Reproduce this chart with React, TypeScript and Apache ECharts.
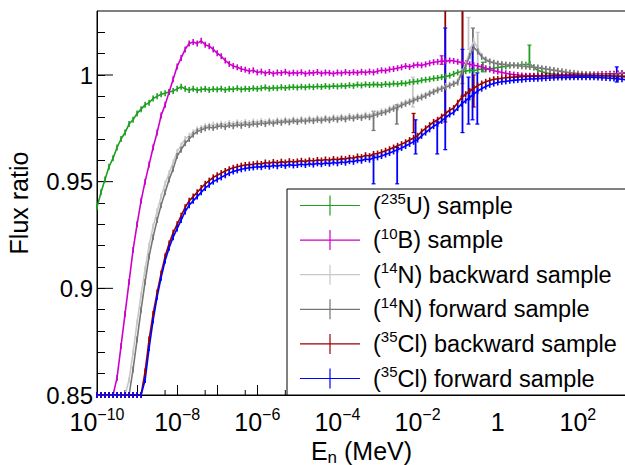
import React, { useEffect, useRef } from 'react';
import * as echarts from 'echarts';

// ---- axis ranges (log10 of E in MeV on x) ----
const X_MIN = -10;
const X_MAX = 3.2;
const Y_MIN = 0.85;
const Y_MAX = 1.03;
// histogram bins: log10(E) from -10.0 in steps of 0.1
const LOG_E_START = -10;
const LOG_E_STEP = 0.1;

// secondary (5x) tick energies, MeV
const fiveTickEnergies = [5e-10, 5e-9, 5e-8, 5e-7, 5e-6, 5e-5, 5e-4, 5e-3, 5e-2, 5e-1, 5, 50, 500];
// labelled (long) y ticks
const yMajorTicks = [0.85, 0.9, 0.95, 1.0];

const seriesNames = [
  '(235U) sample',
  '(10B) sample',
  '(14N) backward sample',
  '(14N) forward sample',
  '(35Cl) backward sample',
  '(35Cl) forward sample',
];
const legendSup = ['235', '10', '14', '14', '35', '35'];
const legendRest = ['U) sample', 'B) sample', 'N) backward sample', 'N) forward sample', 'Cl) backward sample', 'Cl) forward sample'];
const colors = ['#1f9e1f', '#cc00cc', '#c8c8c8', '#767676', '#990000', '#0000ff'];

// ---- flux ratios, one value per bin ----
const u235 = [
  0.938, 0.945, 0.951, 0.957, 0.961, 0.966, 0.970, 0.973, 0.977, 0.979,
  0.982, 0.984, 0.986, 0.987, 0.989, 0.990, 0.991, 0.9915, 0.992, 0.9925,
  0.9935, 0.9945, 0.9935, 0.993, 0.9935, 0.9928, 0.9932, 0.9935, 0.993, 0.9934,
  0.9932, 0.9936, 0.993, 0.9935, 0.9933, 0.9938, 0.9932, 0.9936, 0.9934, 0.9938,
  0.9935, 0.9938, 0.9942, 0.9936, 0.994, 0.9938, 0.9943, 0.9939, 0.9942, 0.9944,
  0.9941, 0.9945, 0.9942, 0.9946, 0.9943, 0.9947, 0.9944, 0.9948, 0.9945, 0.9949,
  0.9946, 0.995, 0.9948, 0.9952, 0.9949, 0.9955, 0.9951, 0.9956, 0.9953, 0.9956,
  0.9955, 0.9953, 0.9958, 0.9955, 0.996, 0.9957, 0.9962, 0.996, 0.9966, 0.9968,
  0.997, 0.9975, 0.9978, 0.998, 0.9984, 0.9986, 0.999, 0.9993, 0.9997, 1.0005,
  1.0012, 1.0016, 1.0018, 1.0022, 1.002, 1.0025, 1.0028, 1.0026, 1.003, 1.0032,
  1.0035, 1.0038, 1.004, 1.0044, 1.0047, 1.0045, 1.005, 1.0048, 1.0052, 1.0035,
  1.0022, 1.0015, 1.001, 1.0006, 1.0004, 1.0002, 1.0, 0.9998, 0.9997, 0.9996,
  0.9996, 0.9997, 0.9996, 0.9998, 0.9997, 0.9999, 1.0, 1.0001, 1.0003, 1.0005,
  1.0007, 1.0009, 1.001,
];
const b10 = [
  0.790, 0.804, 0.817, 0.830, 0.844, 0.858, 0.873, 0.888, 0.903, 0.918,
  0.930, 0.941, 0.950, 0.958, 0.966, 0.973, 0.981, 0.986, 0.992, 0.998,
  1.004, 1.008, 1.012, 1.0148, 1.0155, 1.0148, 1.016, 1.0142, 1.0135, 1.012,
  1.0102, 1.0088, 1.0068, 1.0052, 1.0042, 1.0036, 1.0028, 1.0025, 1.0018, 1.0022,
  1.0012, 1.0016, 1.0008, 1.0014, 1.0006, 1.0012, 1.0009, 1.0015, 1.0007, 1.0011,
  1.0008, 1.0013, 1.0006, 1.0011, 1.0009, 1.0014, 1.0007, 1.0012, 1.001, 1.0006,
  1.0012, 1.0008, 1.0014, 1.0009, 1.0013, 1.001, 1.0015, 1.0011, 1.0016, 1.0012,
  1.0018, 1.0022, 1.002, 1.0026, 1.0028, 1.0032, 1.0036, 1.0042, 1.0038, 1.0045,
  1.0048, 1.0045, 1.005, 1.0055, 1.006, 1.0062, 1.0066, 1.0064, 1.0068, 1.0066,
  1.0062, 1.0058, 1.0055, 1.005, 1.0046, 1.0042, 1.0038, 1.0032, 1.0026, 1.002,
  1.0016, 1.0012, 1.0008, 1.0005, 1.0002, 1.0, 0.9998, 0.9997, 0.9996, 0.9996,
  0.9996, 0.9997, 0.9997, 0.9998, 0.9998, 0.9999, 1.0, 1.0, 1.0001, 1.0001,
  1.0002, 1.0002, 1.0003, 1.0003, 1.0004, 1.0004, 1.0005, 1.0005, 1.0006, 1.0006,
  1.0007, 1.0008, 1.0008,
];
const n14Backward = [
  0.738, 0.753, 0.768, 0.783, 0.798, 0.813, 0.828, 0.843, 0.857, 0.870,
  0.884, 0.897, 0.909, 0.920, 0.929, 0.936, 0.943, 0.949, 0.954, 0.959,
  0.964, 0.967, 0.970, 0.9715, 0.9732, 0.9745, 0.9752, 0.976, 0.9762, 0.9768,
  0.9765, 0.9772, 0.9768, 0.9775, 0.977, 0.9778, 0.9773, 0.978, 0.9775, 0.9782,
  0.9778, 0.9784, 0.9779, 0.9786, 0.978, 0.9788, 0.9783, 0.979, 0.9785, 0.9792,
  0.9787, 0.9793, 0.9789, 0.9796, 0.979, 0.9798, 0.9793, 0.98, 0.9795, 0.9802,
  0.9798, 0.9805, 0.98, 0.9808, 0.9803, 0.981, 0.9806, 0.9814, 0.981, 0.9818,
  0.9822, 0.983, 0.9832, 0.9842, 0.9848, 0.9855, 0.9864, 0.9872, 0.9878, 0.9888,
  0.9895, 0.9902, 0.9908, 0.9918, 0.9925, 0.9934, 0.994, 0.9948, 0.9955, 0.9962,
  0.997, 1.0015, 1.005, 1.011, 1.016, 1.0125, 1.009, 1.0075, 1.0066, 1.006,
  1.0055, 1.0053, 1.005, 1.0048, 1.0047, 1.0045, 1.0043, 1.0041, 1.004, 1.0038,
  1.0036, 1.0033, 1.003, 1.0027, 1.0024, 1.0021, 1.0018, 1.0015, 1.0012, 1.001,
  1.0008, 1.0006, 1.0004, 1.0003, 1.0002, 1.0001, 1.0, 1.0, 0.9999, 0.9999,
  0.9999, 0.9998, 0.9998,
];
const n14Forward = [
  0.730, 0.745, 0.760, 0.775, 0.790, 0.805, 0.820, 0.835, 0.849, 0.862,
  0.876, 0.890, 0.903, 0.915, 0.924, 0.932, 0.939, 0.945, 0.951, 0.956,
  0.962, 0.965, 0.968, 0.970, 0.972, 0.9735, 0.9742, 0.975, 0.9755, 0.9752,
  0.9758, 0.9762, 0.9756, 0.9765, 0.976, 0.9768, 0.9762, 0.977, 0.9765, 0.9772,
  0.9768, 0.9775, 0.977, 0.9778, 0.9772, 0.978, 0.9776, 0.9783, 0.9778, 0.9785,
  0.978, 0.9787, 0.9782, 0.9788, 0.9784, 0.979, 0.9786, 0.9793, 0.9788, 0.9795,
  0.979, 0.9797, 0.9792, 0.98, 0.9796, 0.9803, 0.9799, 0.9806, 0.9802, 0.981,
  0.9815, 0.9822, 0.9825, 0.9835, 0.9842, 0.9848, 0.9858, 0.9865, 0.9872, 0.988,
  0.9888, 0.9895, 0.9902, 0.9912, 0.992, 0.9928, 0.9935, 0.9942, 0.995, 0.9958,
  0.9965, 1.001, 1.004, 1.009, 1.013, 1.011, 1.0085, 1.007, 1.0062, 1.0056,
  1.0052, 1.005, 1.0048, 1.0046, 1.0045, 1.0043, 1.0041, 1.004, 1.0038, 1.0036,
  1.0034, 1.0031, 1.0028, 1.0025, 1.0022, 1.0019, 1.0016, 1.0013, 1.001, 1.0008,
  1.0006, 1.0004, 1.0002, 1.0001, 1.0, 0.9999, 0.9998, 0.9998, 0.9997, 0.9997,
  0.9997, 0.9996, 0.9996,
];
const cl35Backward = [
  0.680, 0.695, 0.710, 0.725, 0.740, 0.755, 0.770, 0.785, 0.800, 0.816,
  0.831, 0.846, 0.861, 0.876, 0.888, 0.898, 0.907, 0.915, 0.921, 0.926,
  0.930, 0.934, 0.938, 0.941, 0.943, 0.945, 0.947, 0.949, 0.9505, 0.952,
  0.953, 0.954, 0.955, 0.9558, 0.9565, 0.957, 0.9575, 0.9578, 0.958, 0.9582,
  0.9585, 0.9583, 0.959, 0.9586, 0.9592, 0.9588, 0.9594, 0.959, 0.9596, 0.9592,
  0.9595, 0.9598, 0.9594, 0.96, 0.9597, 0.9602, 0.9599, 0.9604, 0.96, 0.9606,
  0.9603, 0.9608, 0.9606, 0.9612, 0.961, 0.9618, 0.9615, 0.9624, 0.962, 0.963,
  0.9632, 0.9638, 0.9645, 0.9652, 0.966, 0.9668, 0.9676, 0.9685, 0.9695, 0.9705,
  0.9715, 0.9735, 0.975, 0.9765, 0.978, 0.979, 0.9805, 0.982, 0.9835, 0.9845,
  0.987, 0.9895, 0.991, 0.9925, 0.9938, 0.995, 0.996, 0.9968, 0.9974, 0.998,
  0.9982, 0.9985, 0.9987, 0.9989, 0.999, 0.9991, 0.9992, 0.9993, 0.9993, 0.9994,
  0.9994, 0.9995, 0.9995, 0.9995, 0.9996, 0.9996, 0.9996, 0.9997, 0.9997, 0.9997,
  0.9997, 0.9997, 0.9997, 0.9997, 0.9996, 0.9996, 0.9996, 0.9995, 0.9995, 0.9994,
  0.9993, 0.9992, 0.9991,
];
const cl35Forward = [
  0.675, 0.690, 0.705, 0.720, 0.735, 0.750, 0.765, 0.780, 0.795, 0.811,
  0.826, 0.841, 0.857, 0.872, 0.885, 0.896, 0.905, 0.913, 0.919, 0.924,
  0.928, 0.932, 0.936, 0.939, 0.941, 0.943, 0.945, 0.947, 0.9485, 0.950,
  0.951, 0.952, 0.953, 0.954, 0.9548, 0.9553, 0.9558, 0.9562, 0.9565, 0.9567,
  0.957, 0.9568, 0.9574, 0.957, 0.9576, 0.9572, 0.9578, 0.9574, 0.958, 0.9576,
  0.9578, 0.9582, 0.9578, 0.9584, 0.958, 0.9586, 0.9582, 0.9588, 0.9584, 0.959,
  0.9586, 0.9592, 0.9589, 0.9596, 0.9593, 0.96, 0.9598, 0.9606, 0.9603, 0.9612,
  0.9614, 0.962, 0.9627, 0.9634, 0.9642, 0.965, 0.9658, 0.9667, 0.9677, 0.9687,
  0.9697, 0.9715, 0.973, 0.9745, 0.976, 0.977, 0.9785, 0.98, 0.9815, 0.9825,
  0.9845, 0.9865, 0.988, 0.9895, 0.991, 0.9925, 0.9936, 0.9946, 0.9954, 0.996,
  0.9965, 0.9968, 0.997, 0.9973, 0.9975, 0.9977, 0.9978, 0.998, 0.9981, 0.9982,
  0.9983, 0.9984, 0.9985, 0.9986, 0.9987, 0.9988, 0.9988, 0.9989, 0.9989, 0.999,
  0.999, 0.999, 0.999, 0.999, 0.9989, 0.9988, 0.9987, 0.9986, 0.9985, 0.9984,
  0.9982, 0.998, 0.9978,
];

// ---- bins with large error bars: [log10 E, low, high] ----
const u235Spikes = [[0.79, 1.004, 1.014], [-0.37, 1.0015, 1.006]];
const b10Spikes = [[-1.4, 1.005, 1.009]];
const n14BackwardSpikes = [[-2.12, 0.985, 0.999], [-0.73, 1.012, 1.027], [-0.5, 1.003, 1.02]];
const n14ForwardSpikes = [[-3.1, 0.974, 0.983], [-2.52, 0.977, 0.986], [-0.88, 0.996, 1.04], [-0.62, 1.003, 1.022]];
const cl35BackwardSpikes = [[-2.1, 0.973, 0.982], [-1.31, 0.978, 1.04], [-0.88, 0.99, 1.04], [-0.6, 0.985, 1.0]];
const cl35ForwardSpikes = [
  [-3.1, 0.949, 0.962], [-2.51, 0.949, 0.966], [-2.05, 0.963, 0.979], [-1.51, 0.963, 0.978],
  [-1.31, 0.965, 1.022], [-0.88, 0.973, 1.012], [-0.73, 0.977, 0.999], [-0.63, 0.979, 1.013],
  [-0.51, 0.977, 1.001], [2.97, 0.9967, 1.0038],
];

const allValues = [u235, b10, n14Backward, n14Forward, cl35Backward, cl35Forward];
const allSpikes = [u235Spikes, b10Spikes, n14BackwardSpikes, n14ForwardSpikes, cl35BackwardSpikes, cl35ForwardSpikes];

const FONT = "'Liberation Sans', Arial, Helvetica, sans-serif";

export default function App() {
  const ref = useRef<HTMLDivElement>(null);

  useEffect(() => {
    if (!ref.current) return;
    const chart = echarts.init(ref.current, undefined, { renderer: 'svg' });

    const series: any[] = [];
    allValues.forEach((vals, k) => {
      const color = colors[k];
      series.push({
        name: seriesNames[k],
        type: 'line',
        data: vals.map((v, i) => [+(LOG_E_START + i * LOG_E_STEP).toFixed(2), Math.max(v, Y_MIN)]),
        symbol: 'rect',
        symbolSize: [1.6, 6],
        showSymbol: true,
        lineStyle: { color, width: 1.6 },
        itemStyle: { color },
        clip: true,
        silent: true,
      });
      series.push({
        name: 'err' + k,
        type: 'custom',
        silent: true,
        data: allSpikes[k],
        encode: { x: 0, y: [1, 2] },
        renderItem: (params: any, api: any) => {
          const x = api.value(0);
          const lo = Math.max(api.value(1), Y_MIN);
          const hi = Math.min(api.value(2), Y_MAX);
          const a = api.coord([x, lo]);
          const b = api.coord([x, hi]);
          const children: any[] = [
            { type: 'line', shape: { x1: a[0], y1: a[1], x2: b[0], y2: b[1] }, style: { stroke: color, lineWidth: 1.8 } },
            { type: 'line', shape: { x1: a[0] - 2, y1: a[1], x2: a[0] + 2, y2: a[1] }, style: { stroke: color, lineWidth: 1.2 } },
          ];
          if (api.value(2) < Y_MAX) {
            children.push({ type: 'line', shape: { x1: b[0] - 2, y1: b[1], x2: b[0] + 2, y2: b[1] }, style: { stroke: color, lineWidth: 1.2 } });
          }
          return { type: 'group', children };
        },
      });
    });

    // secondary x ticks at 5 x 10^n
    series.push({
      name: 'ticks5',
      type: 'custom',
      silent: true,
      data: fiveTickEnergies.map((e) => [Math.log10(e), Y_MIN]),
      encode: { x: 0, y: 1 },
      renderItem: (params: any, api: any) => {
        const p = api.coord([api.value(0), Y_MIN]);
        return { type: 'line', shape: { x1: p[0], y1: p[1], x2: p[0], y2: p[1] - 5 }, style: { stroke: '#000', lineWidth: 1 } };
      },
      z: 1,
    });
    // long y ticks at labelled values
    series.push({
      name: 'ticksY',
      type: 'custom',
      silent: true,
      data: yMajorTicks.map((v) => [X_MIN, v]),
      encode: { x: 0, y: 1 },
      renderItem: (params: any, api: any) => {
        const p = api.coord([X_MIN, api.value(1)]);
        return { type: 'line', shape: { x1: p[0], y1: p[1], x2: p[0] + 16, y2: p[1] }, style: { stroke: '#000', lineWidth: 1 } };
      },
      z: 1,
    });

    chart.setOption({
      animation: false,
      backgroundColor: '#fff',
      grid: {
        left: 97, right: -1, top: 11, bottom: 70,
        show: true, borderColor: '#000', borderWidth: 1,
        containLabel: false, outerBoundsMode: 'none',
      },
      xAxis: {
        type: 'value',
        min: X_MIN,
        max: X_MAX,
        interval: 1,
        axisLine: { show: true, onZero: false, lineStyle: { color: '#000', width: 1 } },
        axisTick: { show: true, inside: true, length: 10, lineStyle: { color: '#000' } },
        splitLine: { show: false },
        axisLabel: {
          margin: 15,
          showMaxLabel: false,
          formatter: (v: number) => {
            const e = Math.round(v);
            if (Math.abs(v - e) > 1e-6 || e % 2 !== 0) return '';
            if (e === 0) return '{b|1}';
            return `{b|10}{s|${e < 0 ? '\u2212' : ''}${Math.abs(e)}}`;
          },
          rich: {
            b: { fontSize: 25, lineHeight: 24, color: '#000', fontFamily: FONT },
            s: { fontSize: 16, lineHeight: 24, padding: [0, 0, 16, 0], color: '#000', fontFamily: FONT },
          },
        },
        name: '{b|E}{n|n}{b| (MeV)}',
        nameLocation: 'middle',
        nameGap: 44,
        nameMoveOverlap: false,
        nameTextStyle: {
          rich: {
            b: { fontSize: 25, lineHeight: 24, color: '#000', fontFamily: FONT },
            n: { fontSize: 17, lineHeight: 24, padding: [12, 0, 0, 0], color: '#000', fontFamily: FONT },
          },
        },
      },
      yAxis: {
        type: 'value',
        min: Y_MIN,
        max: Y_MAX,
        interval: 0.01,
        axisLine: { show: true, onZero: false, lineStyle: { color: '#000', width: 1 } },
        axisTick: { show: true, inside: true, length: 8, lineStyle: { color: '#000' } },
        splitLine: { show: false },
        axisLabel: {
          margin: 4,
          showMaxLabel: false,
          color: '#000',
          fontSize: 24,
          fontFamily: FONT,
          formatter: (v: number) => {
            const r = Math.round(v * 20);
            if (Math.abs(v * 20 - r) > 1e-6) return '';
            return String(+(r / 20).toFixed(2));
          },
        },
        name: 'Flux ratio',
        nameLocation: 'middle',
        nameGap: 66,
        nameMoveOverlap: false,
        nameTextStyle: { fontSize: 25, color: '#000', fontFamily: FONT },
      },
      legend: {
        show: true,
        orient: 'vertical',
        left: 287,
        top: 189,
        padding: [2, 30, 2, 13],
        itemGap: 5.6,
        itemWidth: 60,
        itemHeight: 20,
        icon: 'path://M0,9.4H60V10.6H0Z M29.4,0H30.6V20H29.4Z',
        backgroundColor: '#fff',
        borderColor: '#000',
        borderWidth: 1,
        borderRadius: 0,
        selectedMode: false,
        data: seriesNames,
        formatter: (name: string) => {
          const i = seriesNames.indexOf(name);
          return `{p|(}{s|${legendSup[i]}}{n|${legendRest[i]}}`;
        },
        textStyle: {
          color: '#000',
          fontFamily: FONT,
          fontSize: 23.5,
          lineHeight: 20,
          rich: {
            p: { fontSize: 23.5, lineHeight: 20, padding: [0, 0, 0, 8], color: '#000', fontFamily: FONT },
            n: { fontSize: 23.5, lineHeight: 20, color: '#000', fontFamily: FONT },
            s: { fontSize: 15, lineHeight: 20, padding: [0, 0, 14, 0], color: '#000', fontFamily: FONT },
          },
        },
      },
      series,
    });

    return () => chart.dispose();
  }, []);

  return <div ref={ref} style={{ position: 'fixed', left: 0, top: 0, width: 625, height: 465, background: '#fff' }} />;
}
